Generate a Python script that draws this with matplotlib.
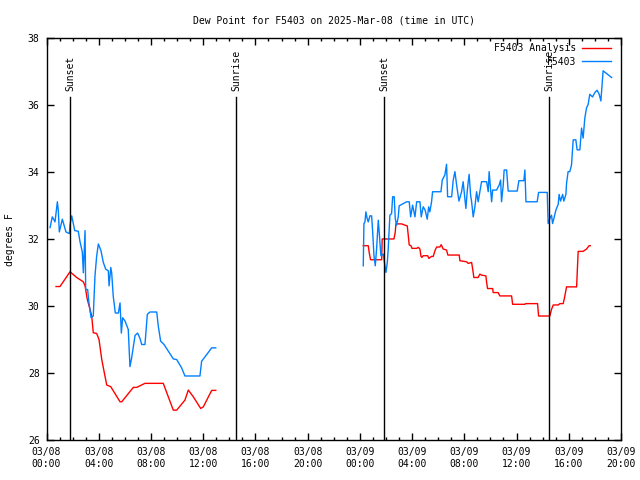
import matplotlib
matplotlib.use('Agg')
import matplotlib.pyplot as plt
import matplotlib.dates as mdates
import pandas as pd

START = pd.Timestamp('2025-03-08 00:00')

# hours after 03/08 00:00 UTC, dew point in degrees F
obs1_hours = [0.27, 0.44, 0.65, 0.83, 0.90, 0.98, 1.21, 1.49, 1.75, 1.80,
              1.93, 2.16, 2.43, 2.57, 2.74, 2.82, 2.95, 3.00, 3.15, 3.25,
              3.41, 3.58, 3.71, 3.84, 3.97, 4.17, 4.35, 4.53, 4.73, 4.79,
              4.92, 4.99, 5.11, 5.27, 5.50, 5.63, 5.73, 5.83, 6.01, 6.26,
              6.39, 6.52, 6.78, 6.98, 7.16, 7.29, 7.54, 7.72, 7.92, 8.44,
              8.56, 8.74, 9.00, 9.33, 9.71, 9.97, 10.35, 10.60, 11.75, 11.88,
              12.27, 12.65, 12.96]
obs1_dewp = [32.35, 32.67, 32.52, 33.12, 32.87, 32.22, 32.60, 32.22, 32.17, 32.44,
             32.70, 32.26, 32.24, 31.92, 31.62, 31.00, 32.26, 30.50, 30.50, 30.10,
             29.66, 29.71, 30.90, 31.50, 31.86, 31.66, 31.31, 31.11, 31.06, 30.61,
             31.16, 31.00, 30.30, 29.80, 29.80, 30.10, 29.20, 29.66, 29.56, 29.31,
             28.20, 28.46, 29.13, 29.20, 29.04, 28.86, 28.86, 29.76, 29.83, 29.83,
             29.41, 28.96, 28.86, 28.66, 28.43, 28.41, 28.16, 27.92, 27.92, 28.36,
             28.56, 28.76, 28.76]

obs2_hours = [24.26, 24.31, 24.39, 24.46, 24.56, 24.64, 24.77, 24.90, 24.98, 25.08,
              25.18, 25.28, 25.41, 25.48, 25.61, 25.79, 25.92, 26.00, 26.10, 26.17,
              26.30, 26.43, 26.51, 26.63, 26.71, 26.81, 26.94, 27.01, 27.20, 27.58,
              27.78, 27.89, 28.04, 28.22, 28.35, 28.60, 28.70, 28.85, 29.00, 29.16,
              29.27, 29.36, 29.49, 29.57, 30.21, 30.31, 30.51, 30.64, 30.72, 31.03,
              31.15, 31.28, 31.41, 31.59, 31.79, 31.91, 32.04, 32.12, 32.22, 32.30,
              32.37, 32.48, 32.56, 32.68, 32.81, 32.94, 33.06, 33.19, 33.32, 33.71,
              33.83, 33.90, 34.09, 34.17, 34.47, 34.67, 34.78, 34.85, 34.98, 35.05,
              35.24, 35.36, 36.05, 36.18, 36.56, 36.64, 36.72, 37.58, 37.69, 38.35,
              38.42, 38.55, 38.68, 38.76, 38.86, 39.01, 39.19, 39.26, 39.37, 39.53,
              39.62, 39.78, 39.83, 39.95, 40.08, 40.21, 40.34, 40.54, 40.64, 40.85,
              40.98, 41.10, 41.23, 41.36, 41.48, 41.61, 41.82, 42.00, 42.17, 42.33,
              42.46, 42.63, 42.89, 43.28]
obs2_dewp = [31.21, 32.47, 32.52, 32.82, 32.62, 32.52, 32.70, 32.70, 32.22, 31.51,
             31.21, 31.71, 32.57, 32.22, 31.51, 31.56, 31.21, 31.01, 31.31, 31.71,
             32.72, 32.77, 33.27, 33.27, 32.62, 32.42, 32.67, 33.00, 33.04, 33.12,
             33.12, 32.67, 33.02, 32.67, 33.12, 33.12, 32.67, 32.97, 32.87, 32.60,
             32.97, 32.82, 33.12, 33.42, 33.42, 33.77, 33.92, 34.24, 33.27, 33.27,
             33.77, 34.02, 33.62, 33.14, 33.42, 33.72, 33.22, 32.92, 33.42, 33.72,
             33.94, 33.32, 33.12, 32.67, 32.97, 33.42, 33.12, 33.42, 33.72, 33.72,
             33.42, 34.02, 33.12, 33.47, 33.47, 33.62, 33.77, 33.12, 33.62, 34.07,
             34.07, 33.44, 33.44, 33.75, 33.75, 34.07, 33.12, 33.12, 33.40, 33.40,
             32.47, 32.62, 32.72, 32.47, 32.62, 32.87, 33.04, 33.34, 33.14, 33.34,
             33.14, 33.34, 33.67, 34.02, 34.02, 34.22, 34.97, 34.97, 34.67, 34.67,
             35.32, 35.02, 35.62, 35.92, 36.02, 36.33, 36.25, 36.38, 36.45, 36.33,
             36.13, 37.03, 36.95, 36.83]

ana1_hours = [0.73, 1.03, 1.80, 2.31, 2.82, 2.95, 3.12, 3.33, 3.46, 3.58,
              3.84, 4.02, 4.23, 4.61, 4.92, 5.63, 5.76, 6.65, 6.91, 7.54,
              8.94, 9.71, 9.97, 10.60, 10.86, 11.24, 11.81, 12.01, 12.65, 12.96]
ana1_dewp = [30.59, 30.59, 31.03, 30.86, 30.73, 30.61, 30.21, 29.91, 29.71, 29.21,
             29.19, 29.01, 28.41, 27.65, 27.60, 27.15, 27.15, 27.58, 27.58, 27.70,
             27.70, 26.90, 26.90, 27.20, 27.50, 27.30, 26.95, 27.00, 27.49, 27.49]

ana2_hours = [24.26, 24.64, 24.72, 24.82, 25.67, 25.71, 26.61, 26.71, 26.76, 27.20,
              27.32, 27.63, 27.70, 27.78, 27.91, 27.99, 28.35, 28.47, 28.60, 28.68,
              28.75, 28.85, 29.19, 29.29, 29.49, 29.62, 29.75, 29.88, 30.13, 30.23,
              30.38, 30.64, 30.74, 31.61, 31.66, 32.17, 32.30, 32.56, 32.66, 32.73,
              33.06, 33.19, 33.32, 33.65, 33.71, 33.78, 34.17, 34.21, 34.59, 34.72,
              35.62, 35.70, 36.64, 36.69, 37.61, 37.69, 38.55, 38.68, 38.81, 39.19,
              39.32, 39.57, 39.65, 39.83, 40.60, 40.72, 41.10, 41.36, 41.56, 41.64]
ana2_dewp = [31.81, 31.81, 31.59, 31.39, 31.39, 32.01, 32.01, 32.21, 32.46, 32.46,
             32.44, 32.40, 32.14, 31.83, 31.81, 31.73, 31.73, 31.76, 31.71, 31.49,
             31.46, 31.51, 31.51, 31.43, 31.49, 31.49, 31.66, 31.77, 31.77, 31.84,
             31.71, 31.68, 31.53, 31.53, 31.36, 31.33, 31.28, 31.31, 31.06, 30.86,
             30.86, 30.96, 30.93, 30.91, 30.71, 30.53, 30.53, 30.41, 30.41, 30.31,
             30.31, 30.06, 30.06, 30.08, 30.08, 29.71, 29.71, 29.91, 30.04, 30.04,
             30.08, 30.08, 30.21, 30.58, 30.58, 31.64, 31.64, 31.71, 31.81, 31.81]

sun_events = ['Sunset', 'Sunrise', 'Sunset', 'Sunrise']
sun_times = ['2025-03-08 01:48', '2025-03-08 14:31', '2025-03-09 01:52', '2025-03-09 14:30']


def to_time(hours):
    return START + pd.to_timedelta(hours, unit='h')


plt.rcParams['font.family'] = 'DejaVu Sans Mono'
plt.rcParams['font.size'] = 7

fig = plt.figure(figsize=(6.4, 4.8), dpi=100)
ax = fig.add_axes([0.0727, 0.0827, 0.8976, 0.8375])

red = '#ff0000'
blue = '#0080ff'
ax.plot(to_time(ana1_hours), ana1_dewp, color=red, lw=1, label='F5403 Analysis')
ax.plot(to_time(ana2_hours), ana2_dewp, color=red, lw=1)
ax.plot(to_time(obs1_hours), obs1_dewp, color=blue, lw=1, label='F5403')
ax.plot(to_time(obs2_hours), obs2_dewp, color=blue, lw=1)

for name, t in zip(sun_events, sun_times):
    t = pd.Timestamp(t)
    ax.axvline(t, ymin=0, ymax=0.855, color='black', lw=1)
    ax.text(t, 0.87, name, transform=ax.get_xaxis_transform(), rotation=90,
            ha='center', va='bottom')

ax.set_xlim(START, pd.Timestamp('2025-03-09 20:00'))
ax.set_ylim(26, 38)
ax.set_yticks(range(26, 39, 2))
ax.xaxis.set_major_locator(mdates.HourLocator(byhour=range(0, 24, 4)))
ax.xaxis.set_minor_locator(mdates.HourLocator())
ax.xaxis.set_major_formatter(mdates.DateFormatter('%m/%d\n%H:%M'))
ax.tick_params(which='both', direction='in', top=True, right=True, width=1)
ax.tick_params(which='major', length=5, pad=5)
ax.tick_params(which='minor', length=2.5)
for s in ax.spines.values():
    s.set_linewidth(1)

ax.set_title('Dew Point for F5403 on 2025-Mar-08 (time in UTC)', fontsize=7, pad=11)
ax.set_ylabel('degrees F', labelpad=9)

ax.legend(loc='upper right', bbox_to_anchor=(1.0, 1.012), markerfirst=False,
          frameon=False, handlelength=3.0, handletextpad=0.6, borderaxespad=0.6,
          labelspacing=0.35)

fig.savefig('out.png', dpi=100)
